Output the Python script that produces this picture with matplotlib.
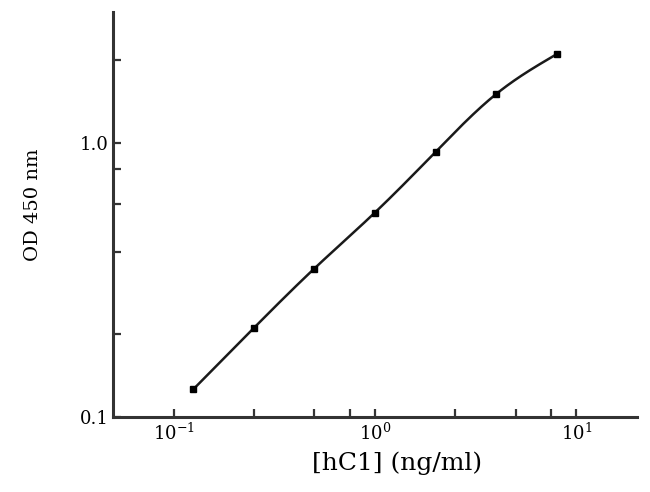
import numpy as np
import matplotlib
matplotlib.use("Agg")
import matplotlib.pyplot as plt
from matplotlib.ticker import FixedLocator, FixedFormatter, NullFormatter

plt.rcParams['font.family'] = ['DejaVu Serif', 'Liberation Serif']
plt.rcParams['mathtext.fontset'] = 'dejavuserif'

conc = [0.125, 0.25, 0.5, 1.0, 2.0, 4.0, 8.0]
od = [0.126, 0.211, 0.348, 0.557, 0.927, 1.507, 2.107]

x_major = [0.1, 1.0, 10.0]
x_major_labels = [r'$\mathregular{10^{-1}}$', r'$\mathregular{10^{0}}$', r'$\mathregular{10^{1}}$']
x_minor = [0.25, 0.5, 0.75, 2.5, 5.0, 7.5]
y_major = [0.1, 1.0]
y_major_labels = ['0.1', '1.0']
y_minor = [0.2, 0.4, 0.6, 0.8, 2.0]


def natural_spline(x, y, n=300):
    x = np.asarray(x, float); y = np.asarray(y, float)
    m = len(x); h = np.diff(x)
    A = np.zeros((m, m)); b = np.zeros(m)
    A[0, 0] = A[-1, -1] = 1
    for i in range(1, m - 1):
        A[i, i - 1] = h[i - 1]; A[i, i] = 2 * (h[i - 1] + h[i]); A[i, i + 1] = h[i]
        b[i] = 3 * ((y[i + 1] - y[i]) / h[i] - (y[i] - y[i - 1]) / h[i - 1])
    c = np.linalg.solve(A, b)
    xs = np.linspace(x[0], x[-1], n); ys = np.empty_like(xs)
    for k, xv in enumerate(xs):
        i = min(np.searchsorted(x, xv) - 1, m - 2); i = max(i, 0)
        dx = xv - x[i]
        bi = (y[i + 1] - y[i]) / h[i] - h[i] * (2 * c[i] + c[i + 1]) / 3
        di = (c[i + 1] - c[i]) / (3 * h[i])
        ys[k] = y[i] + bi * dx + c[i] * dx ** 2 + di * dx ** 3
    return xs, ys


fig = plt.figure(figsize=(6.5, 4.92), dpi=100)
ax = fig.add_axes([0.1738, 0.1524, 0.8062, 0.8232])
ax.set_xscale('log'); ax.set_yscale('log')

lx, ly = natural_spline(np.log10(conc), np.log10(od))
ax.plot(10 ** lx, 10 ** ly, color='#1a1a1a', lw=1.8)
ax.plot(conc, od, ls='none', marker='s', ms=4.5, color='black')

ax.set_xlim(0.05, 20)
ax.set_ylim(0.1, 3.0)

ax.xaxis.set_major_locator(FixedLocator(x_major))
ax.xaxis.set_major_formatter(FixedFormatter(x_major_labels))
ax.xaxis.set_minor_locator(FixedLocator(x_minor))
ax.xaxis.set_minor_formatter(NullFormatter())
ax.yaxis.set_major_locator(FixedLocator(y_major))
ax.yaxis.set_major_formatter(FixedFormatter(y_major_labels))
ax.yaxis.set_minor_locator(FixedLocator(y_minor))
ax.yaxis.set_minor_formatter(NullFormatter())

for s in ['top', 'right']:
    ax.spines[s].set_visible(False)
for s in ['left', 'bottom']:
    ax.spines[s].set_linewidth(2.2)
    ax.spines[s].set_color('#333333')

ax.tick_params(which='both', direction='in', length=6, width=1.6, color='#333333',
               labelsize=13, pad=4)
ax.tick_params(axis='y', pad=3)

ax.set_xlabel('[hC1] (ng/ml)', fontsize=18)
ax.xaxis.set_label_coords(0.542, -0.085)
ax.set_ylabel('OD 450 nm', fontsize=14)
ax.yaxis.set_label_coords(-0.1355, 0.523)

fig.savefig('out.png', dpi=100)
